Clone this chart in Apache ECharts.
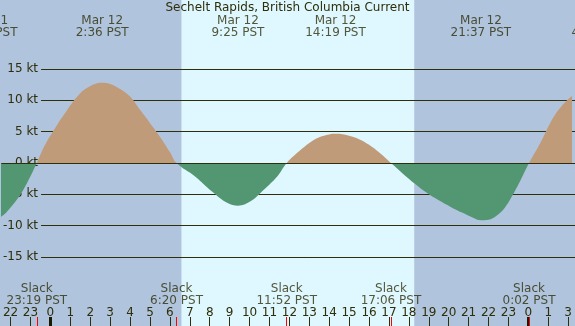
<!DOCTYPE html>
<html>
<head>
<meta charset="utf-8">
<script src="https://cdn.jsdelivr.net/npm/echarts@6/dist/echarts.min.js"></script>
<style>
  html, body { margin: 0; padding: 0; }
  #chart { width: 575px; height: 326px; }
</style>
</head>
<body>
<div id="chart"></div>
<script>
// times are hours counted from Mar 12 00:00 PST, speeds in knots (+ flood, - ebb)
const times = [-3.2, -2.5, -2.0, -1.5, -1.0, -0.683, -0.3, 0.2, 0.85, 1.35, 1.85, 2.6, 3.0, 3.5, 4.0, 4.5,
  5.0, 5.5, 6.0, 6.333, 7.25, 8.1, 8.9, 9.417, 10.05, 10.7, 11.4, 11.867, 12.5, 13.0, 13.5, 14.0,
  14.317, 15.0, 15.5, 16.0, 16.5, 17.1, 17.7, 18.3, 18.9, 19.5, 20.1, 20.7, 21.2, 21.617, 22.0, 22.4,
  22.8, 23.2, 23.6, 24.033, 24.6, 25.1, 25.6, 26.2, 27.0];
const speeds = [-9.2, -8.6, -7.1, -5.0, -2.1, 0, 2.7, 5.4, 8.5, 10.6, 12.0, 12.8, 12.6, 11.8, 10.6, 8.5,
  6.4, 4.2, 1.75, 0, -2.1, -4.5, -6.4, -6.8, -6.1, -4.3, -2.1, 0, 1.9, 3.2, 4.1, 4.55,
  4.65, 4.35, 3.8, 2.9, 1.7, 0, -1.7, -3.3, -4.75, -5.95, -7.0, -7.95, -8.7, -9.15, -9.05, -8.4,
  -7.2, -5.2, -2.8, 0, 3.2, 6.4, 8.8, 10.7, 12.4];

const maxTimes = [-3.17, 2.6, 9.417, 14.317, 21.617, 27.5];
const maxLabels = ["Mar 11\n20:50 PST", "Mar 12\n2:36 PST", "Mar 12\n9:25 PST", "Mar 12\n14:19 PST",
  "Mar 12\n21:37 PST", "Mar 13\n4:30 PST"];
const slackTimes = [-0.683, 6.333, 11.867, 17.1, 24.033];
const slackLabels = ["Slack\n23:19 PST", "Slack\n6:20 PST", "Slack\n11:52 PST", "Slack\n17:06 PST",
  "Slack\n0:02 PST"];

const hourTicks = [-2, -1, 0, 1, 2, 3, 4, 5, 6, 7, 8, 9, 10, 11, 12, 13, 14, 15, 16, 17, 18, 19, 20,
  21, 22, 23, 24, 25, 26];
const hourLabels = ["22", "23", "0", "1", "2", "3", "4", "5", "6", "7", "8", "9", "10", "11", "12",
  "13", "14", "15", "16", "17", "18", "19", "20", "21", "22", "23", "0", "1", "3"];
const midnights = [0, 24];
const daylight = [6.58, 18.27];

const dark = "#2e2e08";
const font = "DejaVu Sans";
const xMin = -2.46;
const xMax = 26.12;

const myChart = echarts.init(document.querySelector("#chart"));

const hourAxis = (extra) => Object.assign({
  type: "value",
  gridIndex: 0,
  position: "bottom",
  z: 6,
  min: xMin,
  max: xMax,
  axisLine: { show: false, onZero: false },
  splitLine: { show: false },
  axisLabel: { show: false },
}, extra);

const option = {
  animation: false,
  backgroundColor: "#b0c4de",
  title: {
    text: "Sechelt Rapids, British Columbia Current",
    left: "center",
    top: 2,
    padding: 0,
    textStyle: { fontFamily: font, fontSize: 12, fontWeight: "normal", color: dark },
  },
  grid: [
    { left: 0, right: 0, top: 0, bottom: 0 },
    { left: 37, right: 0, top: 68.95, bottom: 68.95 },
  ],
  visualMap: {
    type: "piecewise",
    show: false,
    seriesIndex: 0,
    dimension: 1,
    pieces: [
      { min: -100, max: 0, color: "#529672" },
      { gt: 0, max: 100, color: "#bf9b7a" },
    ],
  },
  xAxis: [
    hourAxis({
      axisTick: { customValues: hourTicks, inside: true, length: 9, lineStyle: { color: dark, width: 1 } },
      axisLabel: {
        customValues: hourTicks,
        inside: true,
        margin: 7,
        fontFamily: font,
        fontSize: 12,
        color: dark,
        formatter: (v) => hourLabels[hourTicks.indexOf(Math.round(v))],
      },
    }),
    hourAxis({
      axisTick: { customValues: midnights, inside: true, length: 9, lineStyle: { color: "#1a1a00", width: 3 } },
    }),
    hourAxis({
      axisTick: { customValues: slackTimes, inside: true, length: 9, lineStyle: { color: "#ff0000", width: 1 } },
    }),
    { type: "value", gridIndex: 1, min: 0, max: 1, show: false },
  ],
  yAxis: [
    { type: "value", gridIndex: 0, min: -26, max: 26, show: false },
    {
      type: "value",
      gridIndex: 1,
      min: -15,
      max: 15,
      interval: 5,
      z: 1.5,
      axisLine: { show: false },
      axisTick: { show: false },
      splitLine: { lineStyle: { color: dark, width: 1 } },
      axisLabel: { margin: 3, fontFamily: font, fontSize: 12, color: dark, formatter: "{value} kt" },
    },
  ],
  series: [
    {
      type: "line",
      xAxisIndex: 0,
      yAxisIndex: 0,
      z: 2,
      data: times.map((t, i) => [t, speeds[i]]),
      smooth: 0.4,
      showSymbol: false,
      lineStyle: { width: 0, opacity: 0 },
      areaStyle: { opacity: 1 },
      markArea: {
        silent: true,
        itemStyle: { color: "#dff7ff" },
        data: [[{ xAxis: daylight[0] }, { xAxis: daylight[1] }]],
      },
      markLine: {
        silent: true,
        symbol: "none",
        label: { show: false },
        lineStyle: { color: dark, width: 1, type: "solid" },
        data: [{ yAxis: 0 }],
      },
    },
    {
      type: "scatter",
      xAxisIndex: 0,
      yAxisIndex: 0,
      clip: false,
      symbolSize: 0,
      z: 5,
      data: maxTimes.map((t) => [t, 21.7]),
      label: {
        show: true,
        position: "inside",
        fontFamily: font,
        fontSize: 12,
        lineHeight: 12,
        color: dark,
        align: "center",
        formatter: (p) => maxLabels[p.dataIndex],
      },
    },
    {
      type: "scatter",
      xAxisIndex: 0,
      yAxisIndex: 0,
      clip: false,
      symbolSize: 0,
      z: 5,
      data: slackTimes.map((t) => [t, -21.1]),
      label: {
        show: true,
        position: "inside",
        fontFamily: font,
        fontSize: 12,
        lineHeight: 12,
        color: dark,
        align: "center",
        formatter: (p) => slackLabels[p.dataIndex],
      },
    },
  ],
};

myChart.setOption(option);
</script>
</body>
</html>
